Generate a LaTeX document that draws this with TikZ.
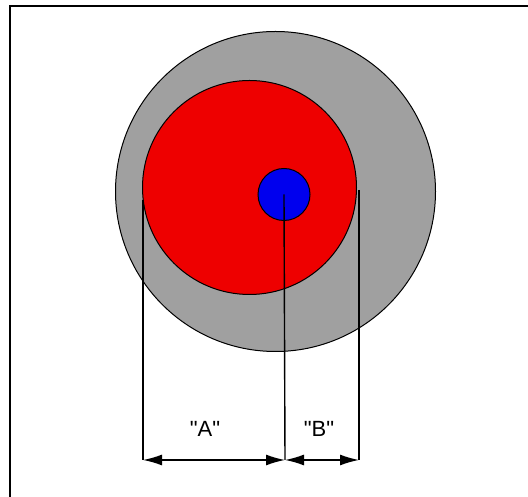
\documentclass[tikz,border=0pt]{standalone}
\usepackage{fontspec}
\setsansfont{Liberation Sans}
\usetikzlibrary{arrows.meta}
\definecolor{ringgray}{RGB}{160,160,160}
\definecolor{corered}{RGB}{238,0,0}
\definecolor{innerblue}{RGB}{0,0,238}
\begin{document}
\begin{tikzpicture}[x=1pt, y=1pt]
  \tikzset{
    disc/.style={circle, draw, line width=1pt, inner sep=0pt},
    ext_line/.style={line width=1.4pt},
    dim_line/.style={line width=1.4pt, {Latex[length=19pt,width=11pt]}-{Latex[length=19pt,width=11pt]}},
    dim_label/.style={font=\sffamily\fontsize{22}{26}\selectfont, inner sep=0pt}
  }
  \useasboundingbox (0,0) rectangle (528,497);

  % Marco
  \draw[line width=1.8pt] (10,0) -- (10,491) -- (528,491);

  % Discos
  \node[disc, fill=ringgray, minimum size=320pt] (outer) at (275.5,305.5) {};
  \node[disc, fill=corered, minimum size=214pt] (core) at (249.5,309.5) {};
  \node[disc, fill=innerblue, minimum size=52pt] (inner) at (284,302.5) {};

  % Puntos de las cotas
  \coordinate (left_top) at (143,297);
  \coordinate (right_top) at (359,307);
  \coordinate (left_bottom) at (143,37);
  \coordinate (mid_bottom) at (285,37);
  \coordinate (right_bottom) at (359,37);

  % Lineas de referencia
  \draw[ext_line] (left_top) -- (left_bottom);
  \draw[ext_line] (inner.center) -- (mid_bottom);
  \draw[ext_line] (right_top) -- (right_bottom);

  % Cotas
  \draw[dim_line] (left_bottom) -- (mid_bottom);
  \draw[dim_line] (mid_bottom) -- (right_bottom);

  % Etiquetas
  \node[dim_label] (label_a) at (205,68) {\textquotedbl A\textquotedbl};
  \node[dim_label] (label_b) at (319,68) {\textquotedbl B\textquotedbl};
\end{tikzpicture}
\end{document}
